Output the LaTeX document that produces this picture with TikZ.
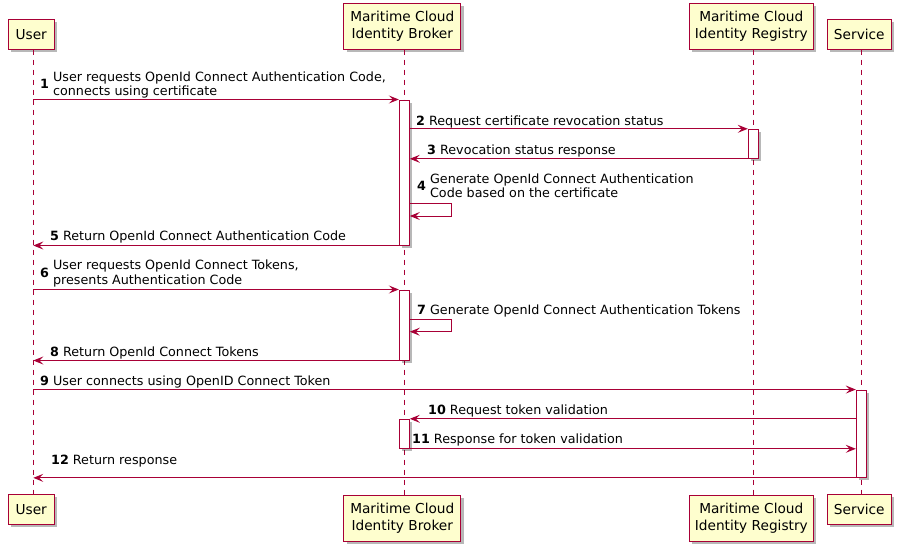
\documentclass[tikz,border=0pt]{standalone}
\usepackage{fontspec}
\setmainfont{DejaVu Sans}
\usetikzlibrary{arrows.meta,shadows}
\definecolor{pborder}{HTML}{A80036}
\definecolor{pfill}{HTML}{FEFECE}
\tikzset{
  part/.style={draw=pborder, fill=pfill, line width=1pt, inner sep=0pt, align=center,
    font=\fontsize{13.7}{16.5}\selectfont, text=black,
    drop shadow={shadow xshift=3pt, shadow yshift=-3pt, opacity=0.28, fill=black}},
  actbox/.style={draw=pborder, fill=white, line width=1pt, inner sep=0pt, minimum width=10pt,
    drop shadow={shadow xshift=3pt, shadow yshift=-3pt, opacity=0.28, fill=black}},
  life/.style={draw=pborder, line width=1pt, dash pattern=on 5pt off 5pt},
  msgline/.style={draw=pborder, line width=1pt, -{Stealth[length=10pt,width=8pt,inset=4pt]}},
  msglbl/.style={anchor=base west, inner sep=0pt, font=\fontsize{12.73}{14.5}\selectfont, text=black},
}
\begin{document}
\begin{tikzpicture}[x=1pt,y=-1pt]
\useasboundingbox (0,0) rectangle (902,552);
% lifeline x positions
\coordinate (uL) at (33.3,0);
\coordinate (bL) at (404.3,0);
\coordinate (rL) at (753.3,0);
\coordinate (sL) at (861.3,0);
% participants top
\node[part, minimum width=45.7pt, minimum height=29.7pt] (uT) at (31.2,34.2) {User};
\node[part, minimum width=116.7pt, minimum height=45.7pt] (bT) at (402.3,26.2) {Maritime Cloud\\Identity Broker};
\node[part, minimum width=124pt, minimum height=45.7pt] (rT) at (751.3,26.2) {Maritime Cloud\\Identity Registry};
\node[part, minimum width=64pt, minimum height=29.7pt] (sT) at (859.3,34.2) {Service};
% participants bottom
\node[part, minimum width=45.7pt, minimum height=29.7pt] (uB) at (31.2,509.3) {User};
\node[part, minimum width=116.7pt, minimum height=45.7pt] (bB) at (402.3,518.2) {Maritime Cloud\\Identity Broker};
\node[part, minimum width=124pt, minimum height=45.7pt] (rB) at (751.3,518.2) {Maritime Cloud\\Identity Registry};
\node[part, minimum width=64pt, minimum height=29.7pt] (sB) at (859.3,509.3) {Service};
% lifelines
\draw[life] (uT.south -| uL) -- (uB.north -| uL);
\draw[life] (bT.south -| bL) -- (bB.north -| bL);
\draw[life] (rT.south -| rL) -- (rB.north -| rL);
\draw[life] (sT.south -| sL) -- (sB.north -| sL);
% activations
\node[actbox, minimum height=145pt] (a1) at (404.3,172.5) {};
\node[actbox, minimum height=70pt] (a2) at (404.3,325) {};
\node[actbox, minimum height=29pt] (a3) at (404.3,433.8) {};
\node[actbox, minimum height=29pt] (ra) at (753.3,143.8) {};
\node[actbox, minimum height=87.3pt] (sa) at (861.3,433.7) {};
% self-message corners
\coordinate (s4a) at (451.3,203.3);
\coordinate (s4b) at (451.3,216);
\coordinate (s7a) at (451.3,319);
\coordinate (s7b) at (451.3,331.7);
% messages
\draw[msgline] (uL |- a1.north) -- (a1.north west);
\draw[msgline] (a1.east |- ra.north) -- (ra.north west);
\draw[msgline] (ra.south west) -- (a1.east |- ra.south);
\draw[msgline] (a1.east |- s4a) -- (s4a) -- (s4b) -- (a1.east |- s4b);
\draw[msgline] (a1.south west) -- (uL |- a1.south);
\draw[msgline] (uL |- a2.north) -- (a2.north west);
\draw[msgline] (a2.east |- s7a) -- (s7a) -- (s7b) -- (a2.east |- s7b);
\draw[msgline] (a2.south west) -- (uL |- a2.south);
\draw[msgline] (uL |- sa.north) -- (sa.north west);
\draw[msgline] (sa.west |- a3.north) -- (a3.north east);
\draw[msgline] (a3.south east) -- (sa.west |- a3.south);
\draw[msgline] (sa.south west) -- (uL |- sa.south);
% labels
\node[msglbl] (m1) at (40,88.5) {\textbf{1} \begin{tabular}[c]{@{}l@{}}User requests OpenId Connect Authentication Code,\\connects using certificate\end{tabular}};
\node[msglbl] (m2) at (416,125.5) {\textbf{2} Request certificate revocation status};
\node[msglbl] (m3) at (427,154) {\textbf{3} Revocation status response};
\node[msglbl] (m4) at (417,190.5) {\textbf{4} \begin{tabular}[c]{@{}l@{}}Generate OpenId Connect Authentication\\Code based on the certificate\end{tabular}};
\node[msglbl] (m5) at (50,240) {\textbf{5} Return OpenId Connect Authentication Code};
\node[msglbl] (m6) at (40,277) {\textbf{6} \begin{tabular}[c]{@{}l@{}}User requests OpenId Connect Tokens,\\presents Authentication Code\end{tabular}};
\node[msglbl] (m7) at (417,314) {\textbf{7} Generate OpenId Connect Authentication Tokens};
\node[msglbl] (m8) at (50,356) {\textbf{8} Return OpenId Connect Tokens};
\node[msglbl] (m9) at (40,385) {\textbf{9} User connects using OpenID Connect Token};
\node[msglbl] (m10) at (428,414) {\textbf{10} Request token validation};
\node[msglbl] (m11) at (412,443) {\textbf{11} Response for token validation};
\node[msglbl] (m12) at (51,464) {\textbf{12} Return response};
\end{tikzpicture}
\end{document}
